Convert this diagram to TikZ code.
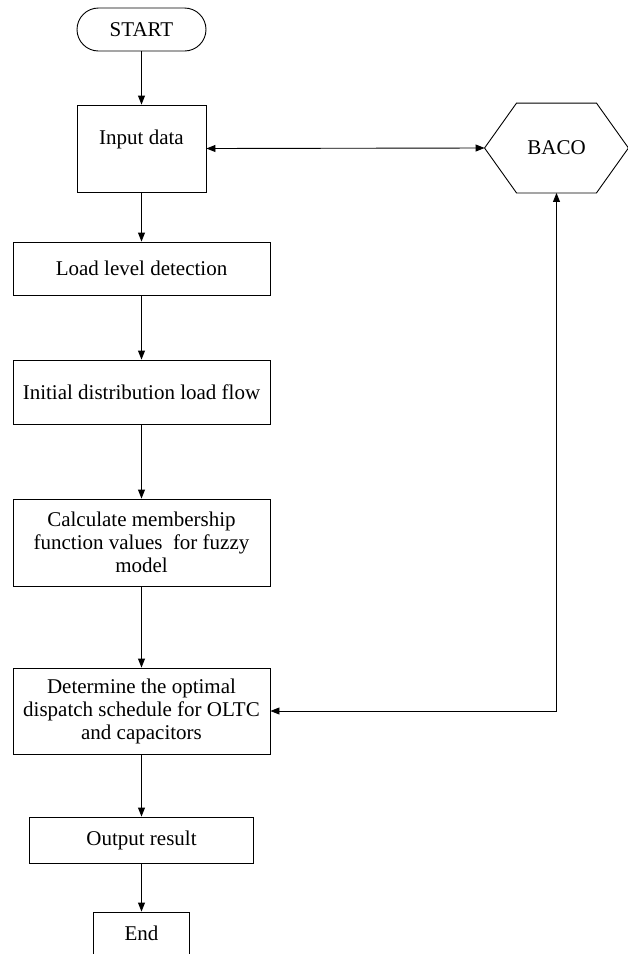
\documentclass[tikz,border=0pt]{standalone}
\usepackage{fontspec}
\setmainfont{Liberation Serif}
\usetikzlibrary{arrows.meta}

\begin{document}
\begin{tikzpicture}[x=1pt,y=-1pt,line width=0.9pt,
  >={Triangle[length=9pt,width=7pt]},
  every node/.style={font=\fontsize{21}{23}\selectfont},
  box/.style={draw,rectangle,align=center,inner sep=0pt},
  term/.style={draw,rounded corners=21.5pt,minimum width=129pt,minimum height=43pt,inner sep=0pt}]
\useasboundingbox (0,0) rectangle (628,954);

\node[term] (start) at (141.5,29.5) {START};
\node[box,minimum width=129pt,text height=39pt,text depth=48pt] (input) at (141.5,148.5) {Input data};
\node[box,minimum width=257pt,minimum height=53pt] (load) at (141.5,268.5) {Load level detection};
\node[box,minimum width=257pt,minimum height=64pt] (flow) at (141.5,392) {Initial distribution load flow};
\node[box,minimum width=257pt,minimum height=87pt] (member) at (141.5,542.5) {Calculate membership\\function values~ for fuzzy\\model};
\node[box,minimum width=257pt,minimum height=86pt] (determine) at (141.5,711) {Determine the optimal\\dispatch schedule for OLTC\\and capacitors};
\node[box,minimum width=224pt,minimum height=46pt] (output) at (141.5,840) {Output result};
\node[box,minimum width=96pt,text height=28pt,text depth=30pt] (end) at (141.5,941) {End};

% BACO hexagon
\node[minimum width=143pt,minimum height=89pt,inner sep=0pt] (baco) at (556.5,148) {BACO};
\draw (baco.west) -- ([xshift=32pt]baco.north west) -- ([xshift=-32pt]baco.north east)
  -- (baco.east) -- ([xshift=-32pt]baco.south east) -- ([xshift=32pt]baco.south west) -- cycle;

\draw[->] (start) -- (input);
\draw[->] (input) -- (load);
\draw[->] (load) -- (flow);
\draw[->] (flow) -- (member);
\draw[->] (member) -- (determine);
\draw[->] (determine) -- (output);
\draw[->] (output) -- (end);
\draw[<->] (input.east) -- (baco.west);
\draw[<->] (baco.south) |- (determine.east);
\end{tikzpicture}
\end{document}
